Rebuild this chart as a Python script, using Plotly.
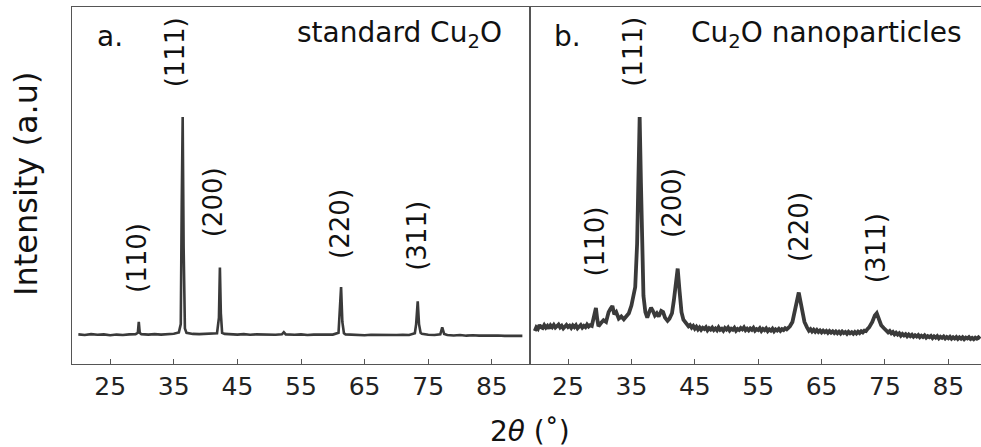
import plotly.graph_objects as go

# ---- data (2theta in degrees, intensity in a.u.; (111) peak = 100) ----
std_2theta = [20.0, 21.0, 22.0, 23.0, 24.0, 25.0, 26.0, 27.0, 28.0, 29.0, 29.35, 29.5, 29.65, 29.9,
              31.0, 32.0, 33.0, 34.0, 35.0, 35.8, 36.1, 36.25, 36.4, 36.55, 36.75, 37.0, 38.0, 39.0,
              40.0, 41.0, 41.8, 42.1, 42.25, 42.4, 42.6, 43.0, 44.0, 45.0, 46.0, 47.0, 48.0, 49.0,
              50.0, 51.0, 52.0, 52.3, 52.6, 53.0, 54.0, 55.0, 56.0, 57.0, 58.0, 59.0, 60.0, 60.9,
              61.1, 61.3, 61.5, 61.75, 62.0, 63.0, 64.0, 65.0, 66.0, 67.0, 68.0, 69.0, 70.0, 71.0,
              72.0, 72.9, 73.1, 73.35, 73.55, 73.8, 74.0, 75.0, 76.0, 76.9, 77.2, 77.5, 78.0, 79.0,
              80.0, 81.0, 82.0, 83.0, 84.0, 85.0, 86.0, 87.0, 88.0, 89.0, 89.8]
std_int = [0.3, 0.0, 0.4, 0.1, 0.3, -0.1, 0.2, 0.0, 0.3, 0.4, 1.0, 6.0, 1.0, 0.4,
           0.2, 0.4, 0.2, 0.5, 0.6, 1.2, 5.0, 60.0, 100.0, 40.0, 3.0, 1.0, 0.5, 0.4,
           0.5, 0.4, 0.8, 8.0, 31.0, 10.0, 1.0, 0.5, 0.3, 0.2, 0.4, 0.1, 0.3, 0.2,
           0.3, 0.1, 0.3, 1.3, 0.3, 0.2, 0.1, 0.3, 0.0, 0.2, 0.1, 0.3, 0.2, 1.0,
           10.0, 22.0, 6.0, 0.8, 0.3, 0.1, 0.2, -0.1, 0.1, 0.0, 0.2, -0.1, 0.0, 0.1,
           0.0, 0.8, 5.0, 15.5, 5.0, 1.0, 0.6, 0.1, 0.0, 0.3, 3.5, 0.5, 0.0, -0.2,
           0.0, -0.3, -0.1, -0.3, -0.2, -0.4, -0.2, -0.4, -0.3, -0.5, -0.4]

# nanoparticle pattern as (2theta, intensity) pairs
nano_low = [(19.75, 1.8), (20.0, 3.5), (20.25, 2.8), (20.5, 4.6), (20.75, 3.6), (21.0, 3.2),
            (21.25, 4.5), (21.5, 3.4), (21.75, 4.2), (22.0, 3.0), (22.25, 4.4), (22.5, 3.6),
            (22.75, 4.6), (23.0, 3.4), (23.25, 4.1), (23.5, 4.8), (23.75, 3.5), (24.0, 4.2),
            (24.25, 3.0), (24.5, 3.8), (24.75, 4.6), (25.0, 3.7), (25.25, 4.3), (25.5, 3.3),
            (25.75, 4.4), (26.0, 3.6), (26.25, 4.5), (26.5, 3.1), (26.75, 4.0), (27.0, 4.6),
            (27.25, 3.4), (27.5, 4.2), (27.75, 3.6), (28.0, 4.8), (28.25, 3.9), (28.5, 4.5),
            (28.75, 4.2)]
nano_main = [(28.9, 5.8), (29.2, 10.5), (29.4, 12.4), (29.6, 7.5), (29.8, 4.0), (30.2, 5.5),
             (30.6, 6.8), (31.0, 6.0), (31.4, 10.5), (31.7, 12.0), (32.0, 13.3), (32.3, 9.5),
             (32.6, 10.5), (33.0, 7.5), (33.4, 8.5), (33.8, 7.2), (34.2, 8.8), (34.6, 10.0),
             (35.0, 13.5), (35.3, 17.0), (35.6, 22.0), (35.9, 42.0), (36.1, 75.0), (36.3, 100.0),
             (36.5, 70.0), (36.7, 35.0), (36.9, 18.0), (37.2, 10.5), (37.5, 8.0), (37.8, 10.5),
             (38.1, 12.5), (38.4, 11.0), (38.7, 9.0), (39.0, 10.0), (39.3, 8.5), (39.7, 11.0),
             (40.0, 10.5), (40.3, 8.0), (40.7, 6.5), (41.0, 7.5), (41.4, 10.0), (41.7, 16.0),
             (42.0, 25.0), (42.3, 30.5), (42.6, 20.0), (42.9, 10.5), (43.2, 7.0), (43.6, 5.5),
             (44.0, 4.0)]
nano_mid = [(44.25, 4.6), (44.5, 3.4), (44.75, 4.2), (45.0, 2.9), (45.25, 3.8), (45.5, 2.6),
            (45.75, 3.5), (46.0, 2.4), (46.25, 3.3), (46.5, 2.8), (46.75, 3.6), (47.0, 2.2),
            (47.25, 3.1), (47.5, 2.5), (47.75, 3.4), (48.0, 2.3), (48.25, 3.0), (48.5, 2.2),
            (48.75, 3.5), (49.0, 2.4), (49.25, 2.9), (49.5, 2.0), (49.75, 3.2), (50.0, 2.5),
            (50.25, 3.4), (50.5, 2.1), (50.75, 2.9), (51.0, 2.4), (51.25, 3.3), (51.5, 2.0),
            (51.75, 2.8), (52.0, 2.3), (52.25, 3.2), (52.5, 2.6), (52.75, 3.5), (53.0, 2.2),
            (53.25, 2.9), (53.5, 2.1), (53.75, 3.0), (54.0, 2.4), (54.25, 3.3), (54.5, 2.0),
            (54.75, 2.7), (55.0, 2.3), (55.25, 3.1), (55.5, 1.9), (55.75, 2.8), (56.0, 2.2),
            (56.25, 3.0), (56.5, 1.8), (56.75, 2.6), (57.0, 2.0), (57.25, 2.9), (57.5, 1.7),
            (57.75, 2.6), (58.0, 2.1), (58.25, 2.8), (58.5, 1.9), (58.75, 2.7), (59.0, 2.3),
            (59.25, 3.1), (59.5, 2.6), (59.75, 3.3)]
nano_220 = [(60.0, 4.0), (60.4, 6.0), (60.8, 11.0), (61.1, 16.5), (61.4, 19.5), (61.7, 15.0),
            (62.0, 10.0), (62.3, 6.0), (62.7, 3.5)]
nano_high = [(63.0, 2.0), (63.25, 2.7), (63.5, 1.6), (63.75, 2.4), (64.0, 1.5), (64.25, 2.3),
             (64.5, 1.4), (64.75, 2.1), (65.0, 1.2), (65.25, 2.0), (65.5, 1.3), (65.75, 1.9),
             (66.0, 1.0), (66.25, 1.8), (66.5, 1.1), (66.75, 1.7), (67.0, 0.9), (67.25, 1.6),
             (67.5, 0.8), (67.75, 1.5), (68.0, 0.7), (68.25, 1.6), (68.5, 0.9), (68.75, 1.4),
             (69.0, 0.6), (69.25, 1.5), (69.5, 0.8), (69.75, 1.3), (70.0, 0.6), (70.25, 1.4),
             (70.5, 0.7), (70.75, 1.5), (71.0, 0.9), (71.25, 1.7), (71.5, 1.2), (71.75, 2.0),
             (72.0, 1.8), (72.25, 2.8), (72.5, 3.5)]
nano_311 = [(73.0, 6.0), (73.4, 9.0), (73.7, 10.0), (74.0, 7.5), (74.4, 4.5), (74.8, 3.2),
            (75.2, 2.0)]
nano_tail = [(75.5, 1.2), (75.75, 1.8), (76.0, 0.8), (76.25, 1.4), (76.5, 0.3), (76.75, 1.0),
             (77.0, 0.2), (77.25, 0.8), (77.5, -0.3), (77.75, 0.5), (78.0, -0.2), (78.25, 0.4),
             (78.5, -0.6), (78.75, 0.2), (79.0, -0.5), (79.25, 0.1), (79.5, -0.8), (79.75, -0.1),
             (80.0, -0.7), (80.25, 0.0), (80.5, -1.0), (80.75, -0.3), (81.0, -0.9), (81.25, -0.2),
             (81.5, -1.2), (81.75, -0.5), (82.0, -1.0), (82.25, -0.4), (82.5, -1.4), (82.75, -0.6),
             (83.0, -1.2), (83.25, -0.5), (83.5, -1.5), (83.75, -0.8), (84.0, -1.3), (84.25, -0.7),
             (84.5, -1.6), (84.75, -0.9), (85.0, -1.5), (85.25, -0.8), (85.5, -1.7), (85.75, -1.0),
             (86.0, -1.6), (86.25, -0.9), (86.5, -1.8), (86.75, -1.1), (87.0, -1.7), (87.25, -1.0),
             (87.5, -1.9), (87.75, -1.2), (88.0, -1.6), (88.25, -1.0), (88.5, -1.8), (88.75, -1.3),
             (89.0, -1.9), (89.25, -1.2), (89.5, -1.7), (89.75, -1.1), (90.0, -1.8)]

peak_labels = ["(110)", "(111)", "(200)", "(220)", "(311)"]
tick_vals = [25, 35, 45, 55, 65, 75, 85]
tick_text = ["25", "35", "45", "55", "65", "75", "85"]

# label placement (x in 2theta, y in intensity units)
std_label_x = [29.2, 35.2, 41.2, 61.1, 73.2]
std_label_y = [35.3, 129.8, 61.0, 50.9, 45.4]
nano_label_x = [29.2, 35.2, 41.4, 61.4, 73.6]
nano_label_y = [42.7, 129.8, 60.6, 49.5, 39.9]

nano_pts = nano_low + nano_main + nano_mid + nano_220 + nano_high + nano_311 + nano_tail
nano_2theta = [p[0] for p in nano_pts]
nano_int = [p[1] for p in nano_pts]

W, H = 981, 447
LINE = "#3a3a3a"
AX = "#555555"
FONT = "DejaVu Sans"

fig = go.Figure()
fig.add_trace(go.Scatter(x=std_2theta, y=std_int, mode="lines",
                         line=dict(color=LINE, width=2.6), xaxis="x", yaxis="y",
                         showlegend=False))
fig.add_trace(go.Scatter(x=nano_2theta, y=nano_int, mode="lines",
                         line=dict(color=LINE, width=3.8), xaxis="x2", yaxis="y2",
                         showlegend=False))

x_left0, x_mid, x_right = 72 / W, 530 / W, 1.0
y_bot, y_top = (H - 364) / H, (H - 7) / H
yr = [-13.3, 150.5]

xcommon = dict(tickvals=tick_vals, ticktext=tick_text, ticks="inside", ticklen=5,
               tickcolor=AX, tickwidth=1, showgrid=False, zeroline=False,
               showline=True, linecolor=AX, linewidth=1.2,
               tickfont=dict(family=FONT, size=25, color="#222222"))
fig.update_layout(
    width=W, height=H,
    margin=dict(l=0, r=0, t=0, b=0),
    paper_bgcolor="white", plot_bgcolor="white",
    xaxis=dict(domain=[x_left0, x_mid], range=[19, 91], mirror=True, anchor="y", **xcommon),
    xaxis2=dict(domain=[x_mid, x_right], range=[19, 90.15], mirror=True, anchor="y2", **xcommon),
    yaxis=dict(domain=[y_bot, y_top], range=yr, showticklabels=False, ticks="",
               showgrid=False, zeroline=False, showline=True, linecolor=AX,
               linewidth=1.2, mirror=True, anchor="x"),
    yaxis2=dict(domain=[y_bot, y_top], range=yr, showticklabels=False, ticks="",
                showgrid=False, zeroline=False, showline=True, linecolor=AX,
                linewidth=1.2, mirror=False, anchor="x2"),
)

ann = []
for lab, lx, ly in zip(peak_labels, std_label_x, std_label_y):
    ann.append(dict(x=lx, y=ly, xref="x", yref="y", text=lab, showarrow=False,
                    textangle=-90, font=dict(family=FONT, size=26, color="#111111")))
for lab, lx, ly in zip(peak_labels, nano_label_x, nano_label_y):
    ann.append(dict(x=lx, y=ly, xref="x2", yref="y2", text=lab, showarrow=False,
                    textangle=-90, font=dict(family=FONT, size=26, color="#111111")))

title_font = dict(family=FONT, size=28, color="#111111")
ann += [
    dict(x=95 / W, y=1 - 36 / H, xref="paper", yref="paper", text="a.", showarrow=False,
         xanchor="left", yanchor="middle", font=title_font),
    dict(x=504 / W, y=1 - 34 / H, xref="paper", yref="paper", text="standard Cu<sub>2</sub>O",
         showarrow=False, xanchor="right", yanchor="middle", font=title_font),
    dict(x=552 / W, y=1 - 36 / H, xref="paper", yref="paper", text="b.", showarrow=False,
         xanchor="left", yanchor="middle", font=title_font),
    dict(x=964 / W, y=1 - 34 / H, xref="paper", yref="paper", text="Cu<sub>2</sub>O nanoparticles",
         showarrow=False, xanchor="right", yanchor="middle", font=title_font),
    dict(x=530 / W, y=1 - 431 / H, xref="paper", yref="paper", text="2<i>θ</i> (˚)",
         showarrow=False, xanchor="center", yanchor="middle",
         font=dict(family=FONT, size=28, color="#111111")),
    dict(x=26 / W, y=1 - 184 / H, xref="paper", yref="paper", text="Intensity (a.u)",
         showarrow=False, xanchor="center", yanchor="middle", textangle=-90,
         font=dict(family=FONT, size=32, color="#111111")),
]
fig.update_layout(annotations=ann)

fig.write_html("out.html")
